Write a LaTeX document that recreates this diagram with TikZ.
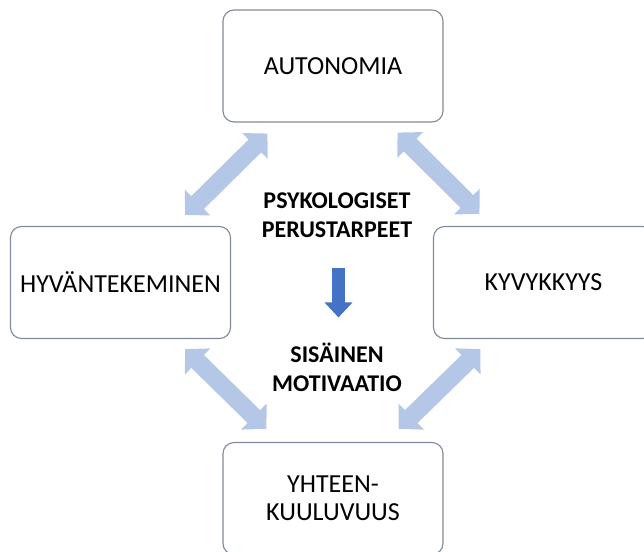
\documentclass[tikz,border=0pt]{standalone}
\usepackage{fontspec}
\setmainfont{Carlito}
\usetikzlibrary{arrows.meta,positioning}
\definecolor{boxline}{RGB}{128,138,152}
\definecolor{pairblue}{RGB}{180,199,231}
\definecolor{flowblue}{RGB}{68,114,196}

\begin{document}
\begin{tikzpicture}[x=1pt, y=-1pt,
  need/.style={
    draw=boxline, line width=1.1pt, rounded corners=11pt, fill=white,
    minimum width=220pt, minimum height=112pt,
    align=center, inner sep=0pt,
    font=\fontsize{26}{28}\selectfont
  },
  core/.style={
    align=center, inner sep=0pt,
    font=\fontsize{24}{29}\selectfont\bfseries
  },
  pair/.style={{Triangle[angle=90:25pt]}-{Triangle[angle=90:25pt]},
    line width=18pt, draw=pairblue},
  flow/.style={-{Triangle[length=15pt, width=27pt]},
    line width=13pt, draw=flowblue}]

\useasboundingbox (0,0) rectangle (644,551);

% Need boxes
\node[need] (aut) at (333,66) {AUTONOMIA};
\node[need] (hyv) at (120.5,282.5) {HYVÄNTEKEMINEN};
\node[need] (kyv) at (543.5,282.5) {KYVYKKYYS};
\node[need] (yht) at (333,498.5) {YHTEEN-\\KUULUVUUS};

% Centre texts
\node[core] (psy) at (337,215) {PSYKOLOGISET\\PERUSTARPEET};
\node[core] (sis) at (337,367) {SISÄINEN\\MOTIVAATIO};

% Two-way arrows between the needs
\draw[pair] ([shift={(45,11)}]aut.south west) -- ([shift={(-46,-11)}]hyv.north east);
\draw[pair] ([shift={(-46,10)}]aut.south east) -- ([shift={(46.5,-12)}]kyv.north west);
\draw[pair] ([shift={(-46,10)}]hyv.south east) -- ([shift={(44,-13)}]yht.north west);
\draw[pair] ([shift={(47.5,10)}]kyv.south west) -- ([shift={(-45,-13)}]yht.north east);

% Needs lead to motivation
\draw[flow, shorten <=30pt, shorten >=25pt]
  ([xshift=1.5pt]psy.south) -- ([xshift=1.5pt]sis.north);

\end{tikzpicture}
\end{document}
